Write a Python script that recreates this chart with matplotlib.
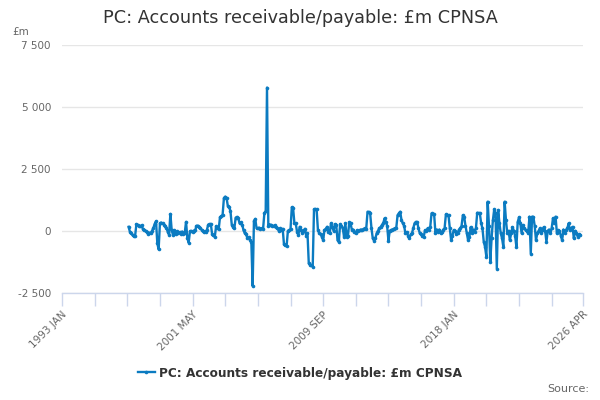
import numpy as np
import pandas as pd
import matplotlib
matplotlib.use("Agg")
import matplotlib.pyplot as plt

# monthly axis runs 1993 JAN .. 2026 APR, data starts 1997 APR
axis_start = "1993-01"
axis_end = "2026-04"
data_start = "1997-04"

values = [
    # 1997 APR - 1997 DEC
    160, -40, -100, -180, -220, -200, 270, 240, 200,
    # 1998
    180, 220, 60, 30, 0, -60, -130, -80, -100, 0, 120, 280,
    # 1999
    380, -510, -750, 300, 330, 300, 250, 200, 120, -50, -160, 680,
    # 2000
    30, -170, 20, -150, -20, -100, -50, -120, -30, -150, -80, 360,
    # 2001
    -300, -480, -20, -10, -30, 10, 20, 200, 210, 150, 100, 40,
    # 2002
    0, -30, -40, 40, 250, 280, 260, -150, -180, -250, 180, 100,
    # 2003
    60, 550, 580, 650, 1320, 1380, 1330, 1000, 960, 800, 250, 150,
    # 2004
    100, 530, 560, 500, 300, 340, 250, 20, -100, -150, -300, -250,
    # 2005
    -380, -450, -2230, 400, 480, 100, 100, 120, 80, 100, 80, 720,
    # 2006
    800, 5780, 200, 250, 240, 200, 200, 220, 150, 100, 0, 100,
    # 2007
    50, 80, -550, -590, -620, 0, 30, 60, 950, 900, 300, 300,
    # 2008
    -40, -175, 160, 30, -100, 0, 80, -200, -100, -1320, -1380, -1400,
    # 2009
    -1450, 860, 880, 860, 30, -100, -150, -240, -380, 30, 80, 160,
    # 2010
    -40, -100, 300, 150, 0, 270, 250, -380, -450, 270, 200, 100,
    # 2011
    -240, 300, -240, -200, 340, 300, 30, 50, -50, -100, 20, 0,
    # 2012
    30, 50, 40, 80, 100, 90, 770, 750, 700, 100, -310, -400,
    # 2013
    -300, -100, 0, 100, 150, 230, 300, 500, 360, 200, -400, 0,
    # 2014
    30, 50, 80, 100, 120, 630, 700, 770, 430, 300, 200, -100,
    # 2015
    -50, -200, -310, -150, -100, 100, 300, 360, 350, 100, -100, -150,
    # 2016
    -200, -240, 20, 0, 100, 50, 150, 700, 680, 660, -100, 50,
    # 2017
    -50, 50, -100, -50, 50, 100, 660, 650, 630, 100, -380, -200,
    # 2018
    30, 0, -150, -100, 50, 100, 200, 630, 570, 200, -100, -380,
    # 2019
    -250, 150, -100, 50, -50, 100, 730, 720, 700, 300, 100, -450,
    # 2020
    -650, -1050, 1175, 200, -1255, -300, 430, 860, 700, -1525, 840, 300,
    # 2021
    -100, -300, -650, 1175, 430, -100, 0, -380, -100, 150, 0, -200,
    # 2022
    -650, 360, 540, 300, -100, 230, 100, 30, 0, -100, 570, -920,
    # 2023
    570, 560, 200, -380, -100, 0, 100, -100, 50, 150, 0, -450,
    # 2024
    0, 50, -100, 100, 500, 300, 570, -100, 30, 0, -200, -380,
    # 2025
    50, -100, 30, 100, 300, 30, 100, 160, -310, 0, -100, -240,
    # 2026 JAN - APR
    -150, -175,
]

y_ticks = [-2500, 0, 2500, 5000, 7500]
y_tick_labels = ["-2 500", "0", "2 500", "5 000", "7 500"]
label_every = 100

title = "PC: Accounts receivable/payable: £m CPNSA"
series_name = "PC: Accounts receivable/payable: £m CPNSA"

months = pd.period_range(axis_start, axis_end, freq="M")
month_labels = [p.strftime("%Y %b").upper() for p in months]
offset = (pd.Period(data_start, "M") - months[0]).n
x = np.arange(offset, offset + len(values))

fig = plt.figure(figsize=(6, 4), dpi=100)
ax = fig.add_axes([62 / 600, 1 - 292.7 / 400, 521 / 600, 247.7 / 400])

line_col = "#0b7bc1"
ax.plot(x, values, color=line_col, lw=1.7, marker="o", ms=2.6,
        markeredgewidth=0, label=series_name)

ax.set_xlim(0, len(months) - 1)
ax.set_ylim(-2500, 7500)
ax.set_yticks(y_ticks)
ax.set_yticklabels(y_tick_labels)
ax.tick_params(axis="y", length=0, pad=8, labelsize=7.5, labelcolor="#666666")
ax.grid(axis="y", color="#e6e6e6", lw=1)
ax.set_axisbelow(True)

last = len(months) - 1
major = list(range(0, last, 25)) + [last]
ax.set_xticks(major)
ax.set_xticklabels([month_labels[i] if (i % label_every == 0 or i == last) else ""
                    for i in major], rotation=45, ha="right", rotation_mode="anchor")
ax.tick_params(axis="x", length=9, width=1, color="#ccd6eb", pad=3,
               labelsize=7.5, labelcolor="#666666")

for s in ["top", "right", "left"]:
    ax.spines[s].set_visible(False)
ax.spines["bottom"].set_color("#ccd6eb")
ax.spines["bottom"].set_linewidth(1)

fig.text(0.5, 1 - 18 / 400, title, ha="center", va="center", fontsize=12.7, color="#333333")
fig.text(12 / 600, 1 - 32 / 400, "£m", ha="left", va="center", fontsize=7.5, color="#666666")
fig.text(589 / 600, 1 - 389 / 400, "Source:", ha="right", va="center", fontsize=8, color="#666666")

fig.legend(loc="center", bbox_to_anchor=(0.5, 1 - 373 / 400), frameon=False,
           handlelength=1.4, handletextpad=0.4, prop={"size": 8.7, "weight": "bold"},
           labelcolor="#333333")

fig.savefig("out.png", dpi=100)
